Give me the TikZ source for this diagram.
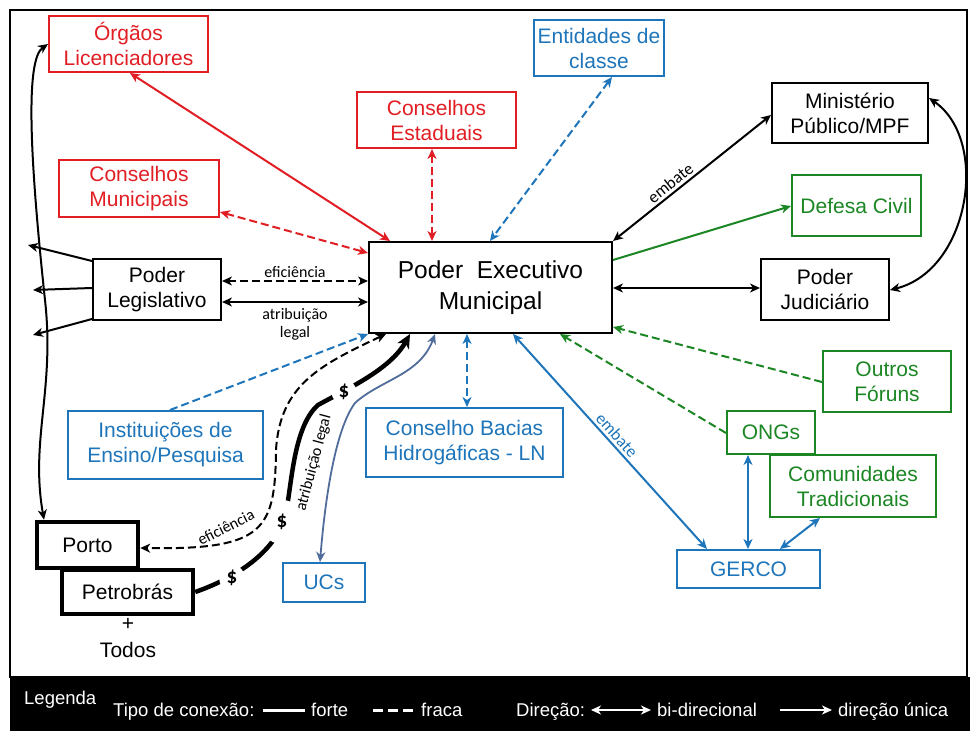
\documentclass[tikz,border=0pt]{standalone}
\usepackage{fontspec}
\setmainfont{Liberation Sans}
\newfontfamily\labfont{Carlito}
\usetikzlibrary{arrows.meta}
\definecolor{cred}{RGB}{225,30,36}
\definecolor{cblue}{RGB}{30,117,186}
\definecolor{cgreen}{RGB}{28,134,36}
\definecolor{cslate}{RGB}{80,108,155}
\begin{document}
\begin{tikzpicture}[x=1pt,y=-1pt,
  >={Stealth[length=10pt,width=9pt,inset=3pt]},
  box/.style={draw,line width=2pt,align=center,inner sep=1pt,font=\fontsize{21}{25}\selectfont},
  rbox/.style={box,cred,text=cred},
  bbox/.style={box,cblue,text=cblue},
  gbox/.style={box,cgreen,text=cgreen},
  kbox/.style={box,black},
  tbox/.style={box,black,line width=4.5pt},
  con/.style={line width=2pt},
  weak/.style={con,dash pattern=on 8pt off 4pt},
  lbl/.style={font=\labfont\fontsize{16}{18}\selectfont,inner sep=1.5pt},
  dol/.style={font=\labfont\bfseries\fontsize{21}{22}\selectfont,circle,fill=white,inner sep=0pt},
  leg/.style={text=white,font=\fontsize{18.5}{20}\selectfont,inner sep=0pt},
  txt/.style={font=\fontsize{21}{25}\selectfont,inner sep=0pt}
]
\useasboundingbox (0,0) rectangle (970,731);
\fill[white] (0,0) rectangle (970,731);
\draw[line width=1.5pt] (10,10) rectangle (967,677);
\fill[black] (10,677) rectangle (970,731);

% nodes
\node[rbox,minimum width=159pt,minimum height=56pt] (org) at (128.5,44) {Órgãos\\Licenciadores};
\node[rbox,minimum width=160pt,minimum height=57pt] (cmun) at (139,188.5) {Conselhos\\Municipais};
\node[rbox,minimum width=159pt,minimum height=56pt] (cest) at (436.5,120) {Conselhos\\Estaduais};
\node[bbox,minimum width=130pt,minimum height=56pt] (ent) at (599,48) {Entidades de\\classe};
\node[kbox,minimum width=156pt,minimum height=60pt] (mpf) at (850,113) {Ministério\\Público/MPF};
\node[gbox,minimum width=129pt,minimum height=61pt] (dc) at (856.5,205.5) {Defesa Civil};
\node[kbox,minimum width=128pt,minimum height=61pt] (pj) at (825,289.5) {Poder\\Judiciário};
\node[kbox,minimum width=243pt,minimum height=91pt,font=\fontsize{24.5}{31}\selectfont] (pem) at (490.5,287.5) {Poder~ Executivo\\Municipal};
\node[kbox,minimum width=128pt,minimum height=61pt] (pl) at (157,289.5) {Poder\\Legislativo};
\node[bbox,minimum width=195pt,minimum height=68pt] (ins) at (165.5,445) {Instituições de\\Ensino/Pesquisa};
\node[bbox,minimum width=197pt,minimum height=69pt] (cbh) at (464.5,442.5) {Conselho Bacias\\Hidrogáficas - LN};
\node[bbox,minimum width=82pt,minimum height=39pt] (ucs) at (324,582.5) {UCs};
\node[tbox,minimum width=101pt,minimum height=46pt] (porto) at (87.5,545) {Porto};
\node[tbox,minimum width=131pt,minimum height=44pt] (petro) at (127.5,592) {Petrobrás};
\node[txt] (plus) at (128,624) {+};
\node[txt] (todos) at (128,650) {Todos};
\node[gbox,minimum width=128pt,minimum height=61pt] (outros) at (887,381.5) {Outros\\Fóruns};
\node[gbox,minimum width=88pt,minimum height=43pt] (ongs) at (771,432.5) {ONGs};
\node[gbox,minimum width=166pt,minimum height=62pt] (com) at (853,486) {Comunidades\\Tradicionais};
\node[bbox,minimum width=143pt,minimum height=38pt] (gerco) at (748.5,569) {GERCO};

% red connectors
\draw[con,cred,<->] (org.south -| 130,0) -- (pem.north -| 390,0);
\draw[weak,cred,<->] (cmun.east |- 0,212) -- (pem.west |- 0,253);
\draw[weak,cred,<->] (cest.south -| 432,0) -- (pem.north -| 432,0);
% blue top
\draw[weak,cblue,<->] (ent.south -| 612,0) -- (pem.north -| 490,0);
% right side
\draw[con,<->] (pem.north east) -- node[lbl,font=\labfont\fontsize{17}{18}\selectfont,sloped,above=1pt,pos=0.4] {embate} (mpf.west |- 0,115);
\draw[con,cgreen,->] (pem.east |- 0,260) -- (dc.west |- 0,206);
\draw[con,<->] (pem.east |- 0,288) -- (pj.west |- 0,288);
\draw[con,<->] (mpf.east |- 0,98) .. controls (990,140) and (970,270) .. (pj.east |- 0,290);
% legislativo
\draw[weak,<->] (pl.east |- 0,281) -- node[lbl,above=1pt] {eficiência} (pem.west |- 0,281);
\draw[con,<->] (pl.east |- 0,302) -- node[lbl,below=4pt,align=center] {atribuição\\legal} (pem.west |- 0,302);
\coordinate (l1) at (28,245);
\coordinate (l2) at (33,290);
\coordinate (l3) at (33,335);
\draw[con,->] (pl.west |- 0,261) -- (l1);
\draw[con,->] (pl.west |- 0,288) -- (l2);
\draw[con,->] (pl.west |- 0,319) -- (l3);
% big left curve
\draw[con,<->] (org.west |- 0,44) .. controls (25,60) and (30,160) .. (45,300) .. controls (55,390) and (30,440) .. (porto.north -| 44,0);
% instituicoes
\draw[weak,cblue,->] (ins.north -| 170,0) -- (pem.south west);
% thick petrobras curve
\draw[line width=4.5pt,-{Stealth[length=14pt,width=13pt,inset=4pt]}] (petro.east |- 0,592) .. controls (235,578) and (270,555) .. (283,523) .. controls (292,500) and (290,430) .. (318,405) .. controls (345,390) and (390,370) .. (pem.south -| 410,0);
\node[dol,minimum size=26pt] (d1) at (232,578) {\$};
\node[dol,minimum size=44pt] (d2) at (282,522) {\$};
\node[dol,minimum size=25pt] (d3) at (344,392) {\$};
\node[lbl,rotate=75] (al) at (314,463) {atribuição legal};
% dashed to porto
\draw[weak,<->] (pem.south -| 386,0) .. controls (320,365) and (280,385) .. (276,450) .. controls (275,530) and (265,550) .. (porto.east |- 0,548);
\node[lbl,rotate=27] (ef) at (226,527) {eficiência};
% UCs
\draw[cslate,line width=1.8pt,<->] (pem.south -| 435,0) .. controls (420,375) and (380,380) .. (355,403) .. controls (335,430) and (325,500) .. (ucs.north -| 320,0);
% bacias
\draw[weak,cblue,<->] (pem.south -| 467,0) -- (cbh.north -| 467,0);
% gerco
\draw[con,cblue,<->] (pem.south -| 513,0) -- node[lbl,font=\labfont\fontsize{17}{18}\selectfont,text=cblue,sloped,above=1pt,pos=0.5] {embate} (gerco.north -| 707,0);
\draw[weak,cgreen,->] (ongs.west |- 0,433) -- (pem.south -| 560,0);
\draw[weak,cgreen,->] (outros.west |- 0,382) -- (pem.east |- 0,327);
\draw[con,cblue,<->] (ongs.south -| 748,0) -- (gerco.north -| 748,0);
\draw[con,cblue,<->] (com.south -| 820,0) -- (gerco.north -| 780,0);

% legend
\node[leg,anchor=base west] (lgd) at (24,704) {Legenda};
\node[leg,anchor=base west] (tipo) at (113,716) {Tipo de conexão:};
\coordinate (f1) at (263,710); \coordinate (f2) at (305,710);
\draw[white,line width=3pt] (f1) -- (f2);
\node[leg,anchor=base west] (forte) at (311,716) {forte};
\coordinate (w1) at (373,710); \coordinate (w2) at (413,710);
\draw[white,line width=3pt,dash pattern=on 10pt off 5pt] (w1) -- (w2);
\node[leg,anchor=base west] (fraca) at (421,716) {fraca};
\node[leg,anchor=base west] (dir) at (516,716) {Direção:};
\coordinate (b1) at (591,710); \coordinate (b2) at (651,710);
\draw[white,line width=2pt,<->] (b1) -- (b2);
\node[leg,anchor=base west] (bid) at (657,716) {bi-direcional};
\coordinate (u1) at (780,710); \coordinate (u2) at (832,710);
\draw[white,line width=2pt,->] (u1) -- (u2);
\node[leg,anchor=base west] (dun) at (838,716) {direção única};
\end{tikzpicture}
\end{document}
